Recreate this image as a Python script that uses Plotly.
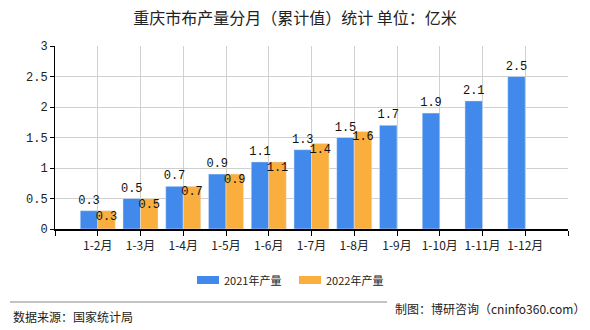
import plotly.graph_objects as go

categories = ["1-2月", "1-3月", "1-4月", "1-5月", "1-6月", "1-7月", "1-8月",
              "1-9月", "1-10月", "1-11月", "1-12月"]
values_2021 = [0.3, 0.5, 0.7, 0.9, 1.1, 1.3, 1.5, 1.7, 1.9, 2.1, 2.5]
values_2022 = [0.3, 0.5, 0.7, 0.9, 1.1, 1.4, 1.6, None, None, None, None]
series_names = ["2021年产量", "2022年产量"]
y_ticks = [0, 0.5, 1, 1.5, 2, 2.5, 3]
y_ticktext = ["0", "0.5", "1", "1.5", "2", "2.5", "3"]

BLUE = "#4189EB"
ORANGE = "#F9AE3E"
CJK = "Noto Sans CJK SC"
MONO = "Liberation Mono"
BAR_W = 0.41

xpos = list(range(1, len(categories) + 1))

# plot-area geometry in pixels, used to place paper-referenced decorations
L, R, T, B = 55, 22, 46, 101
PW, PH = 590 - L - R, 330 - T - B


def px(x):
    return (x - L) / PW


def py(y):
    return (330 - B - y) / PH


fig = go.Figure()
fig.add_trace(go.Bar(
    name=series_names[0], x=xpos, y=values_2021, marker_color=BLUE,
    width=BAR_W, offset=-BAR_W,
    text=[f"{v:g}" for v in values_2021], textposition="outside",
    constraintext="none",
    textfont=dict(family=MONO, size=12, color="#111"), cliponaxis=False,
    showlegend=False,
))
fig.add_trace(go.Bar(
    name=series_names[1], x=xpos, y=values_2022, marker_color=ORANGE,
    width=BAR_W, offset=0, showlegend=False,
))
# 2022 value labels sit just under the top of each orange bar
lab_x = [x + BAR_W / 2 for x, v in zip(xpos, values_2022) if v is not None]
lab_y = [v for v in values_2022 if v is not None]
fig.add_trace(go.Scatter(
    x=lab_x, y=lab_y, mode="text", text=[f"{v:g}" for v in lab_y],
    textposition="bottom center",
    textfont=dict(family=MONO, size=12, color="#111"),
    showlegend=False, hoverinfo="skip", cliponaxis=False,
))

fig.update_layout(
    width=590, height=330,
    margin=dict(l=L, r=R, t=T, b=B),
    paper_bgcolor="white", plot_bgcolor="white",
    barmode="overlay",
    title=dict(text="重庆市布产量分月（累计值）统计 单位：亿米",
               x=0.5, xanchor="center", y=1 - 18 / 330, yanchor="middle",
               font=dict(family=CJK, size=16, color="#222")),
    font=dict(family=CJK, size=12, color="#222"),
    showlegend=False,
)

fig.update_xaxes(
    range=[0, len(categories) + 1],
    tickvals=[0] + xpos + [len(categories) + 1],
    ticktext=[""] + categories + [""],
    showgrid=True, gridcolor="#d0d0d0", gridwidth=1,
    showline=True, linecolor="#000", linewidth=1.5,
    ticks="outside", ticklen=5, tickcolor="#000",
    tickfont=dict(family=CJK, size=12, color="#222"),
    zeroline=False,
)
fig.update_yaxes(
    range=[0, 3],
    tickvals=y_ticks, ticktext=y_ticktext,
    showgrid=True, gridcolor="#d0d0d0", gridwidth=1,
    showline=True, linecolor="#000", linewidth=1,
    ticks="outside", ticklen=4, tickcolor="#000",
    tickfont=dict(family=MONO, size=12, color="#222"),
    zeroline=False,
)

# legend: colour swatches with series names
legend_items = [(197, BLUE, series_names[0]), (299, ORANGE, series_names[1])]
for x0, color, name in legend_items:
    fig.add_shape(type="rect", xref="paper", yref="paper",
                  x0=px(x0), x1=px(x0 + 22), y0=py(284), y1=py(276),
                  fillcolor=color, line=dict(width=0))
    fig.add_annotation(text=name, xref="paper", yref="paper",
                       x=px(x0 + 25), y=py(280), xanchor="left", yanchor="middle",
                       showarrow=False, font=dict(family=CJK, size=11, color="#222"))

# separator line above the footer
fig.add_shape(type="line", xref="paper", yref="paper",
              x0=px(10), x1=px(387), y0=py(302), y1=py(302),
              line=dict(color="#888", width=1))

fig.add_annotation(text="数据来源：国家统计局", xref="paper", yref="paper",
                   x=px(11), y=py(316), xanchor="left", yanchor="middle",
                   showarrow=False, font=dict(family=CJK, size=12, color="#222"))
fig.add_annotation(text="制图：博研咨询（cninfo360.com）", xref="paper", yref="paper",
                   x=px(587), y=py(308), xanchor="right", yanchor="middle",
                   showarrow=False, font=dict(family=CJK, size=12, color="#222"))

fig.write_html("out.html")
